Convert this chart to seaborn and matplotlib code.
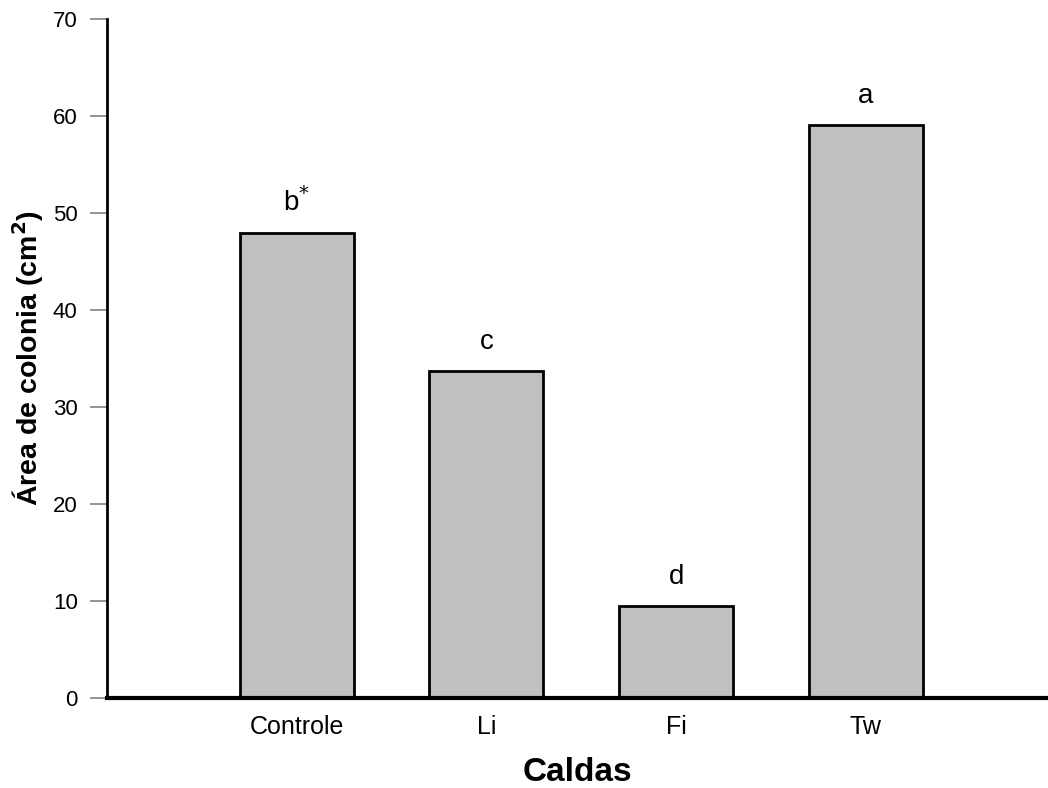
import matplotlib
matplotlib.use("Agg")
import matplotlib.pyplot as plt
import seaborn as sns
import pandas as pd

# Colony area per treatment broth
categories = ["Controle", "Li", "Fi", "Tw"]
areas = [47.9, 33.7, 9.5, 59.1]
letters = ["b", "c", "d", "a"]
asterisks = ["*", "", "", ""]
yticks = [0, 10, 20, 30, 40, 50, 60, 70]

sns.set_theme(style="white")
plt.rcParams["font.family"] = ["Liberation Sans", "DejaVu Sans"]
plt.rcParams["text.color"] = "black"
plt.rcParams["axes.labelcolor"] = "black"

df = pd.DataFrame({"Caldas": categories, "Area": areas})

fig = plt.figure(figsize=(10.48, 7.88), dpi=100)
ax = fig.add_axes([0.102, 0.1142, 0.898, 0.8617])

sns.barplot(data=df, x="Caldas", y="Area", order=categories, color="#c0c0c0",
            saturation=1, width=0.6, edgecolor="black", linewidth=2, ax=ax)

ax.set_xlim(-1.0, 3.96)
ax.set_ylim(0, 70)
ax.set_yticks(yticks)
ax.set_yticklabels([str(t) for t in yticks], fontsize=16)
ax.tick_params(axis="y", direction="out", length=12, width=1.2, color="#808080",
               left=True, pad=9, labelcolor="black")
ax.tick_params(axis="x", length=0, labelsize=18, pad=12, labelcolor="black")

for side in ["top", "right"]:
    ax.spines[side].set_visible(False)
ax.spines["left"].set_linewidth(2)
ax.spines["bottom"].set_linewidth(3)
ax.spines["left"].set_color("black")
ax.spines["bottom"].set_color("black")

for i, (v, l, s) in enumerate(zip(areas, letters, asterisks)):
    label = l + (r"$^{*}$" if s else "")
    ax.annotate(label, xy=(i, v), xytext=(0, 16), textcoords="offset points",
                ha="center", va="baseline", fontsize=20)

ax.set_xlabel("Caldas", fontsize=24, fontweight="bold", labelpad=13)
ax.set_ylabel(r"Área de colonia (cm$^{\mathbf{2}}$)", fontsize=20.5, fontweight="bold", labelpad=5)

fig.savefig("out.png", dpi=100)
